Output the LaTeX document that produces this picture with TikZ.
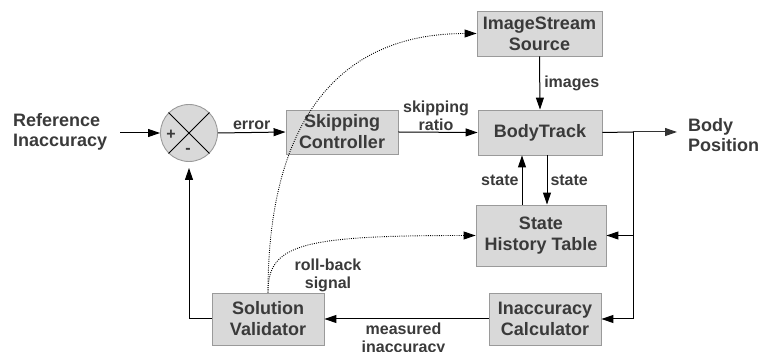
\documentclass[tikz,border=0pt]{standalone}
\usepackage{fontspec}
\setmainfont{Liberation Sans}
\usetikzlibrary{arrows.meta,shapes.geometric}
\definecolor{boxfill}{HTML}{D9D9D9}
\definecolor{boxdraw}{HTML}{9A9A9A}
\definecolor{txt}{HTML}{3A3A3A}
\begin{document}
\begin{tikzpicture}[x=1pt,y=-1pt,
  blk/.style={draw=boxdraw, fill=boxfill, line width=0.9pt, text=txt,
    font=\bfseries\fontsize{18}{21}\selectfont, align=center, inner sep=0pt},
  lbl/.style={text=txt, font=\bfseries\fontsize{16}{18}\selectfont, align=center, inner sep=0pt},
  big/.style={text=txt, font=\bfseries\fontsize{18}{20}\selectfont, align=left, inner sep=0pt},
  arr/.style={line width=1pt, -{Triangle[length=12pt,width=8pt]}},
  dotarr/.style={line width=0.9pt, dash pattern={on 0.9pt off 1.3pt}, -{Triangle[length=12pt,width=8pt]}}]
\useasboundingbox (0,0) rectangle (761,352);

% blocks
\node[blk, minimum width=125, minimum height=45] (img) at (539.5,33.5) {ImageStream\\Source};
\node[blk, minimum width=124, minimum height=45] (body) at (540,132.5) {BodyTrack};
\node[blk, minimum width=112, minimum height=44] (skip) at (342,132) {Skipping\\Controller};
\node[blk, minimum width=130, minimum height=61] (hist) at (541,235.5) {State\\History Table};
\node[blk, minimum width=112, minimum height=52] (sol) at (268,319) {Solution\\Validator};
\node[blk, minimum width=112, minimum height=52] (calc) at (545,319) {Inaccuracy\\Calculator};

% summing junction
\node[circle, draw=boxdraw, fill=boxfill, line width=0.9pt, minimum size=57, inner sep=0pt] (sum) at (189,133) {};
\draw[line width=1pt] (sum.north west) -- (sum.south east);
\draw[line width=1pt] (sum.north east) -- (sum.south west);
\node[lbl] (plus) at (171,135) {+};
\node[lbl] (minus) at (188,151) {-};

% outer texts
\node[big, anchor=west] (refin) at (13,132) {Reference\\Inaccuracy};
\node[big, anchor=west] (bodypos) at (688,135) {Body\\Position};
\coordinate (refend) at (120,133);
\coordinate (j1) at (633,132);
\coordinate (bpend) at (677,132);
\coordinate (upx) at (522,0);
\coordinate (dnx) at (547,0);

% connectors
\draw[arr] (refend) -- (sum.west);
\draw[arr] (sum.east) -- node[lbl, above=2pt] (errl) {error} (skip.west);
\draw[arr] (skip.east) -- node[lbl, above=1pt, xshift=-2pt] (skl) {skipping\\ratio} (body.west);
\draw[arr] (img.south) -- node[lbl, right=4pt] (imgl) {images} (body.north);
\draw[line width=1pt] (body.east) -- (j1);
\draw[arr, draw=black!80, fill=black] (j1) -- (bpend);
\draw[arr] (j1) |- (hist.east);
\draw[arr] (j1) |- (calc.east);
\draw[arr] (hist.north -| upx) -- node[lbl, left=3pt] (st1) {state} (body.south -| upx);
\draw[arr] (body.south -| dnx) -- node[lbl, right=3pt] (st2) {state} (hist.north -| dnx);
\draw[arr] (calc.west) -- node[lbl, below=3pt, xshift=-3pt] (meas) {measured\\inaccuracy} (sol.east);
\draw[arr, shorten >=6pt] (sol.west) -| (sum.south);

% dotted signals
\draw[dotarr] (sol.north) .. controls ([yshift=169]sol.north) and ([xshift=-140]img.west) .. (img.west);
\draw[dotarr] (sol.north) .. controls ([yshift=48]sol.north) and ([xshift=-176]hist.west) .. (hist.west);
\node[lbl] (rb) at (328,275) {roll-back\\signal};
\end{tikzpicture}
\end{document}
